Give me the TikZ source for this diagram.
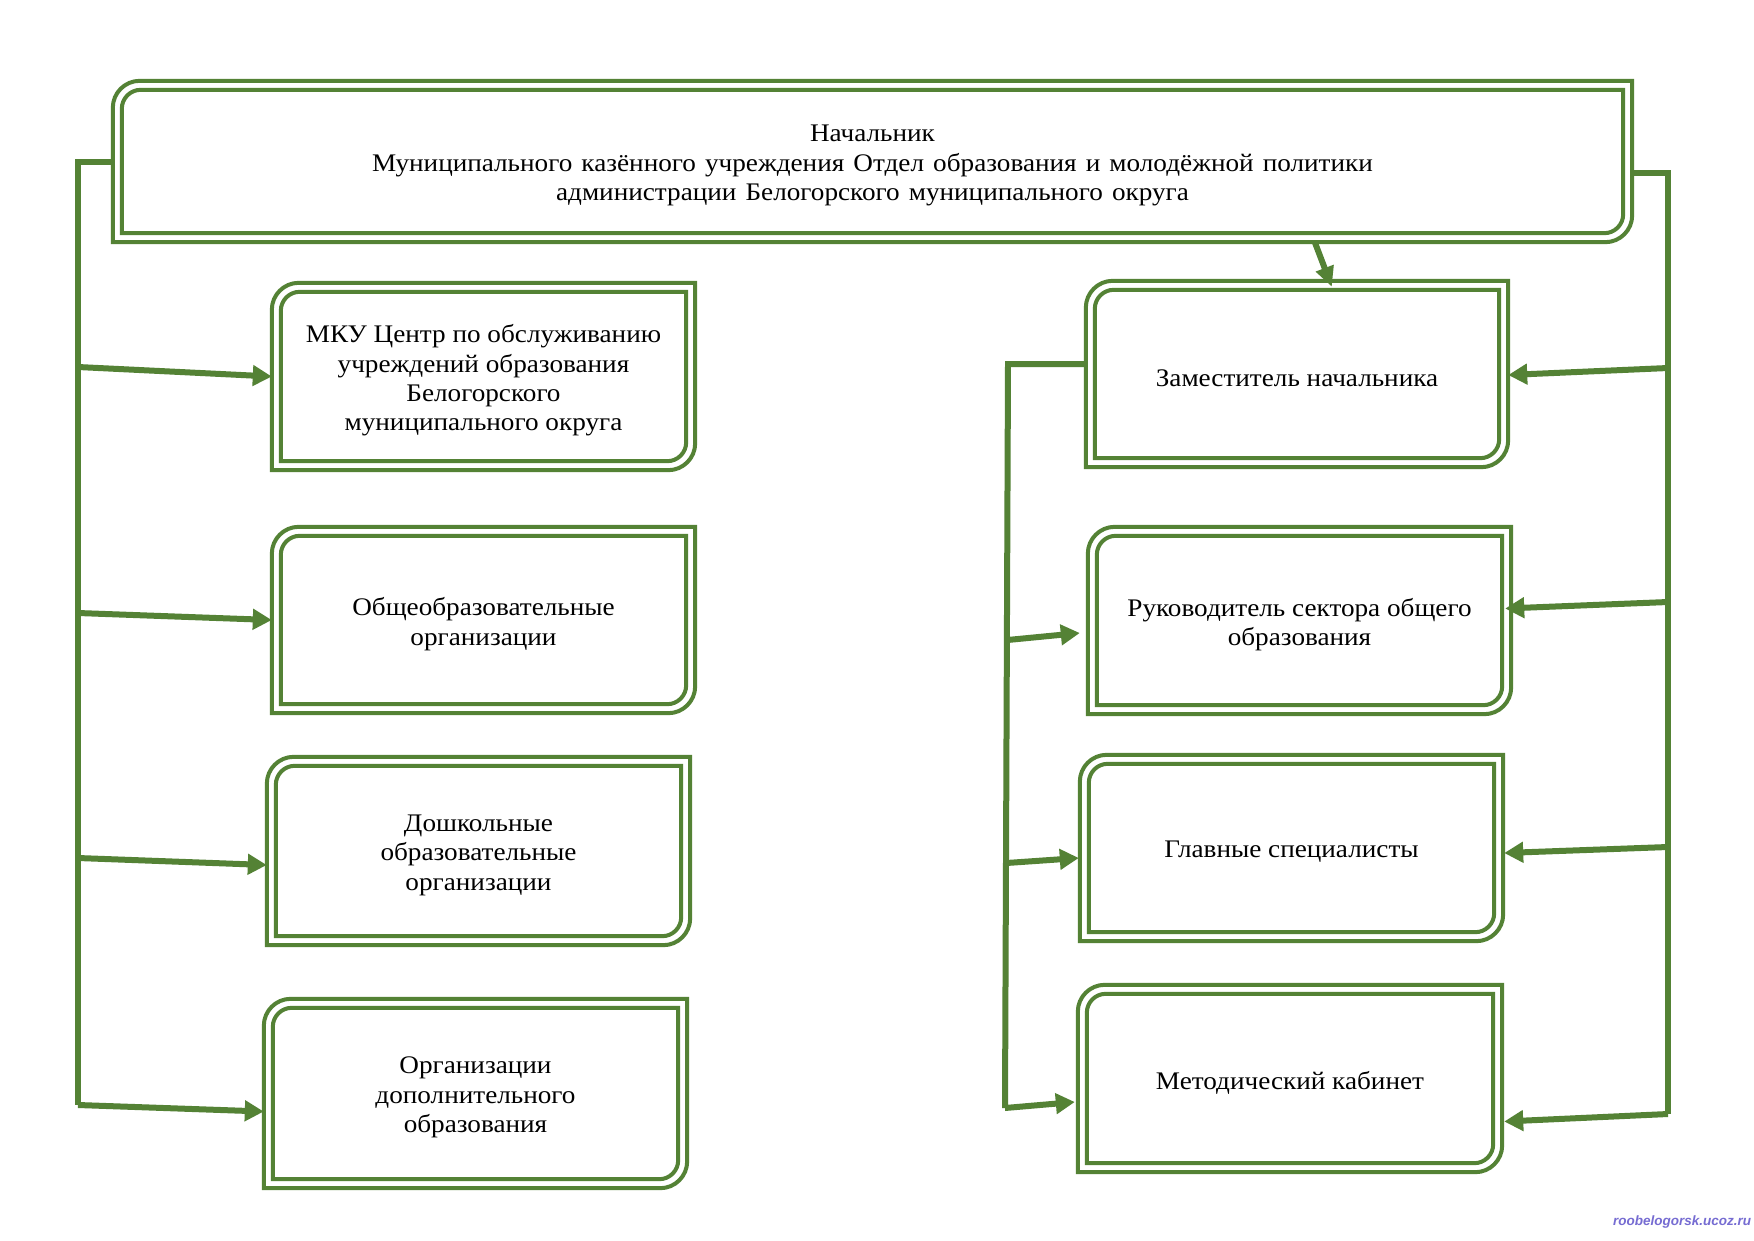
\documentclass[tikz,border=0pt]{standalone}
\usepackage{fontspec}
\setmainfont[FakeStretch=1.075]{Liberation Serif}
\newfontfamily\wmfont{Liberation Sans}
\usetikzlibrary{arrows.meta,calc}
\definecolor{grn}{RGB}{84,130,53}
\definecolor{wmcol}{RGB}{118,108,210}
\tikzset{
  x=1pt, y=-1pt,
  boxnode/.style={inner sep=0pt},
  boxtext/.style={inner sep=0pt, align=center, font=\fontsize{25.3}{29.4}\selectfont},
  frameline/.style={draw=grn, line width=4pt},
  conn/.style={draw=grn, line width=6pt},
  arr/.style={conn, -{Triangle[length=19pt,width=20pt]}},
}
\newcommand\wg{\hspace{0.36em}}
% #1 name, #2 x1, #3 y1, #4 x2, #5 y2, #6 text
\newcommand\mkbox[6]{%
  \node[boxnode, minimum width={#4-#2}, minimum height={#5-#3}] (#1) at ({(#2+#4)/2},{(#3+#5)/2}) {};
  \node[boxtext] (#1t) at ($(#1.center)+(0,4)$) {#6};
  \draw[frameline] ($(#1.north west)+(0,27)$) arc[start angle=180,end angle=270,radius=27]
     -- (#1.north east) -- ($(#1.south east)+(0,-27)$) arc[start angle=0,end angle=90,radius=27]
     -- (#1.south west) -- cycle;
  \draw[frameline] ($(#1.north west)+(9,28)$) arc[start angle=180,end angle=270,radius=19]
     -- ($(#1.north east)+(-9,9)$) -- ($(#1.south east)+(-9,-28)$) arc[start angle=0,end angle=90,radius=19]
     -- ($(#1.south west)+(9,-9)$) -- cycle;
}
\begin{document}
\begin{tikzpicture}
\fill[white] (0,0) rectangle (1754,1240);
\useasboundingbox (0,0) rectangle (1754,1240);

\mkbox{main}{113}{81}{1632}{242}{Начальник\\Муниципального\wg казённого\wg учреждения\wg Отдел\wg образования\wg и\wg молодёжной\wg политики\\администрации\wg Белогорского\wg муниципального\wg округа}

\mkbox{mku}{272}{283}{695}{470}{МКУ Центр по обслуживанию\\учреждений образования\\Белогорского\\муниципального округа}
\mkbox{obsh}{272}{527}{695}{713}{Общеобразовательные\\организации}
\mkbox{dosh}{267}{757}{690}{945}{Дошкольные\\образовательные\\организации}
\mkbox{dop}{264}{999}{687}{1188}{Организации\\дополнительного\\образования}

\mkbox{zam}{1086}{281}{1508}{467}{Заместитель начальника}
\mkbox{ruk}{1088}{527}{1511}{714}{Руководитель сектора общего\\образования}
\mkbox{glav}{1080}{755}{1503}{941}{Главные специалисты}
\mkbox{metod}{1078}{985}{1502}{1172}{Методический кабинет}

% left bus
\coordinate (lbTop) at (78,161.5);
\coordinate (lbBot) at (78,1105);
\draw[conn] (main.west) -- (lbTop) -- (lbBot);
\coordinate (l1) at (78,367);
\coordinate (l2) at (78,613);
\coordinate (l3) at (78,858);
\coordinate (l4) at (78,1105);
\draw[arr] (l1) -- (mku.west);
\draw[arr] (l2) -- (obsh.west);
\draw[arr] (l3) -- ($(dosh.west)+(0,14)$);
\draw[arr] (l4) -- ($(dop.west)+(0,18)$);

% right outer bus
\coordinate (rbTop) at (1668,173);
\coordinate (rbBot) at (1668,1114);
\draw[conn] ($(main.east)+(0,11.5)$) -- (rbTop) -- (rbBot);
\coordinate (r1) at (1668,368);
\coordinate (r2) at (1668,602);
\coordinate (r3) at (1668,847);
\coordinate (r4) at (1668,1114);
\draw[arr] (r1) -- ($(zam.east)+(0,1)$);
\draw[arr] (r2) -- ($(ruk.east)+(-6,-12)$);
\draw[arr] (r3) -- ($(glav.east)+(1,5)$);
\draw[arr] (r4) -- ($(metod.east)+(2,43)$);

% inner bus from deputy
\coordinate (ibTop) at (1008,364);
\coordinate (ibBot) at (1005,1108);
\draw[conn] ($(zam.west)+(0,-10)$) -- (ibTop) -- (ibBot);
\coordinate (i1) at (1007.5,640);
\coordinate (i2) at (1006.5,863);
\coordinate (i3) at (1005,1108);
\draw[arr] (i1) -- ($(ruk.west)+(-8,12.5)$);
\draw[arr] (i2) -- ($(glav.west)+(-1,10)$);
\draw[arr] (i3) -- ($(metod.west)+(-3,23.5)$);

% head to deputy
\draw[conn, -{Triangle[length=20pt,width=18pt]}] ($(main.south west)+(1202,0)$) -- ($(zam.north west)+(246,6)$);

% watermark
\node[font=\wmfont\bfseries\itshape\fontsize{13.5}{14}\selectfont, text=wmcol, inner sep=0pt] (wmark) at (1682,1222) {roobelogorsk.ucoz.ru};
\end{tikzpicture}
\end{document}
